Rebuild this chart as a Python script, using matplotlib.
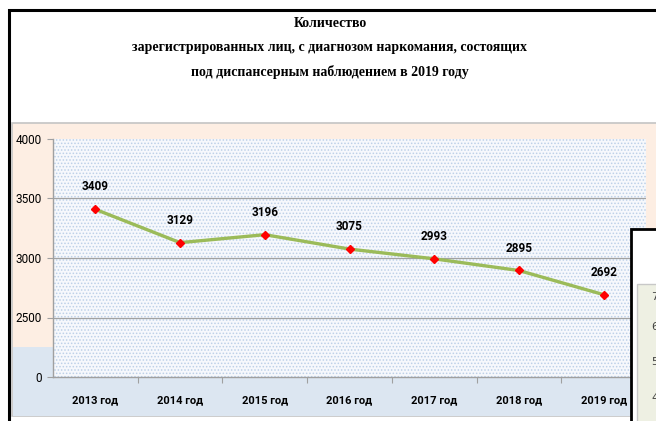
import matplotlib
matplotlib.use('Agg')
import matplotlib.pyplot as plt
from matplotlib.patches import Rectangle

# Данные
годы = ['2013 год', '2014 год', '2015 год', '2016 год', '2017 год', '2018 год', '2019 год']
значения = [3409, 3129, 3196, 3075, 2993, 2895, 2692]
деления_y = [2000, 2500, 3000, 3500, 4000]
подписи_y = ['0', '2500', '3000', '3500', '4000']
заголовок = ['Количество',
             'зарегистрированных лиц, с диагнозом наркомания, состоящих',
             'под диспансерным наблюдением в 2019 году']

W, H = 656, 421
fig = plt.figure(figsize=(W / 100, H / 100), dpi=100)
fig.patch.set_facecolor('white')
шрифт = ['Roboto', 'DejaVu Sans']


def rect(x0, y0, x1, y1, **kw):
    # прямоугольник в пикселях (y сверху вниз)
    r = Rectangle((x0 / W, 1 - y1 / H), (x1 - x0) / W, (y1 - y0) / H,
                  transform=fig.transFigure, **kw)
    fig.patches.append(r)
    return r


# рамка и фон диаграммы
rect(9, 10, 665, 440, facecolor='none', edgecolor='black', lw=2.2, zorder=-3)
rect(12, 123, 665, 416, facecolor='#fdeee3', edgecolor='#c4c4c4', lw=1.2, zorder=-2)
rect(12.5, 347, 53, 415.5, facecolor='#dce6f1', edgecolor='none', zorder=-1)
rect(12.5, 377, 640, 415.5, facecolor='#dce6f1', edgecolor='none', zorder=-1)

# заголовок
for текст, y in zip(заголовок, [27, 51, 76]):
    fig.text(0.503, 1 - y / H, текст, ha='center', va='baseline', fontsize=10,
             fontweight='bold', family=['Liberation Serif', 'DejaVu Serif'])

# область построения
ax = fig.add_axes([53 / W, 1 - 377 / H, (646 - 53) / W, (377 - 139) / H])
plt.rcParams['hatch.linewidth'] = 0.7
ax.set_facecolor('#f6f8fc')
ax.add_patch(Rectangle((0, 0), 1, 1, transform=ax.transAxes, facecolor='none',
                       edgecolor='#bdd0e8', hatch='.....', lw=0, zorder=0))

x = range(len(годы))
ax.plot(x, значения, color='#9bbb59', lw=2.4, zorder=3)
ax.plot(x, значения, linestyle='none', marker='D', markersize=4.5,
        color='#ff0000', zorder=4)
for xi, v in zip(x, значения):
    ax.annotate(str(v), (xi, v), xytext=(0, 11.5), textcoords='offset points',
                ha='center', va='bottom', fontsize=8.5, fontweight='bold',
                family=шрифт)

ax.set_xlim(-0.5, 6.5)
ax.set_ylim(2000, 4000)
ax.set_yticks(деления_y)
ax.set_yticklabels(подписи_y, family=шрифт, fontsize=8.5)
ax.set_xticks([i + 0.5 for i in range(6)])
ax.set_xticklabels([])
ax.set_xticks(list(x), minor=True)
ax.set_xticklabels(годы, minor=True, fontsize=8, fontweight='bold', family=шрифт)
ax.tick_params(axis='x', which='major', length=4, color='#a0a0a0', direction='out')
ax.tick_params(axis='x', which='minor', length=0, pad=13)
ax.tick_params(axis='y', length=4, color='#a0a0a0', pad=4)
for yy in [2500, 3000, 3500]:
    ax.axhline(yy, color='#a2a2a2', lw=0.9, zorder=1)
for s in ['top', 'right']:
    ax.spines[s].set_visible(False)
for s in ['left', 'bottom']:
    ax.spines[s].set_color('#a0a0a0')
    ax.spines[s].set_linewidth(1)

# перекрывающая соседняя диаграмма справа
rect(631, 229, 680, 440, facecolor='white', edgecolor='black', lw=2, zorder=10)
rect(637, 284, 680, 440, facecolor='#eef0e3', edgecolor='#c8c8c8', lw=1, zorder=11)
for ch, y in zip(['7', '6', '5', '4'], [297, 327, 362, 398]):
    fig.text(651 / W, 1 - y / H, ch, fontsize=8, va='center', ha='left',
             color='#404040', zorder=12)

fig.savefig('out.png', dpi=100)
